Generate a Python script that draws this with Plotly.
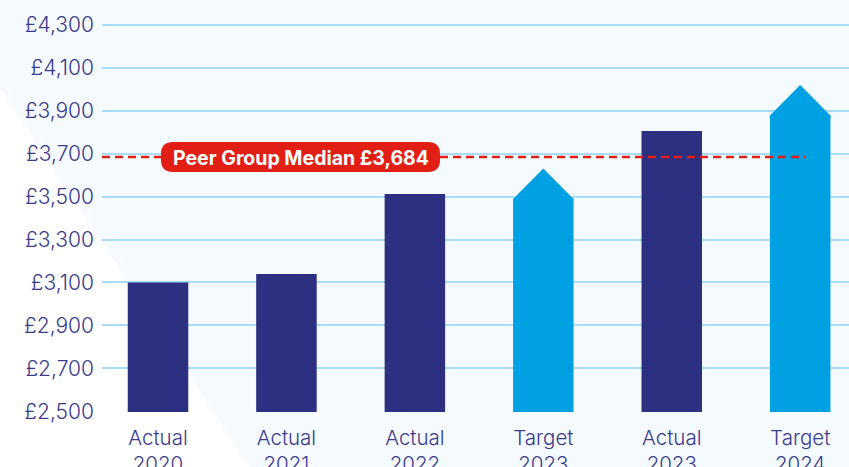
import plotly.graph_objects as go

# ---- data ----
categories = ["Actual<br>2020", "Actual<br>2021", "Actual<br>2022",
              "Target<br>2023", "Actual<br>2023", "Target<br>2024"]
kinds = ["actual", "actual", "actual", "target", "actual", "target"]
values = [3100, 3140, 3512, 3489, 3805, 3877]
peer_median = 3684
y_ticks = [2500, 2700, 2900, 3100, 3300, 3500, 3700, 3900, 4100, 4300]
y_tick_labels = ["£{:,}".format(v) for v in y_ticks]

# ---- style ----
NAVY = "#2d2f80"
CYAN = "#00a1e2"
RED = "#e21f14"
BG = "#f5faff"
GRID = "#a9dcf5"
TEXT = "#3b3b8c"
FONT = "Inter"
BAR_W = 0.471
ARROW_HEAD = 142  # height of the pointed tip, in £ units
OVERLAP = 12      # overlap of tip into bar body, in £ units

W, H = 849, 467
ML, MB = 102, 55
X_RANGE = [-0.436, 5.38]
Y_RANGE = [2497, 4415]

xs = list(range(len(categories)))
colors = [NAVY if k == "actual" else CYAN for k in kinds]

fig = go.Figure()
fig.add_trace(go.Bar(
    x=xs, y=[v - Y_RANGE[0] for v in values], base=Y_RANGE[0],
    width=BAR_W, marker=dict(color=colors, line=dict(width=0)),
    hoverinfo="skip", showlegend=False,
))

# pointed tips for target bars
for x, v, k in zip(xs, values, kinds):
    if k != "target":
        continue
    xl, xr = x - BAR_W / 2, x + BAR_W / 2
    fig.add_trace(go.Scatter(
        x=[xl, xl, x, xr, xr, xl],
        y=[v - OVERLAP, v, v + ARROW_HEAD, v, v - OVERLAP, v - OVERLAP],
        fill="toself", fillcolor=CYAN, mode="lines",
        line=dict(width=0, color=CYAN), hoverinfo="skip", showlegend=False,
    ))

shapes = [
    # white diagonal background region
    dict(type="path", xref="paper", yref="paper", layer="below",
         path="M {x0},{y0} L {x1},{y1} L {x0},{y1} Z".format(
             x0=(0 - ML) / (W - ML), y0=1 - 87 / (H - MB),
             x1=(250 - ML) / (W - ML), y1=1 - H / (H - MB)),
         fillcolor="white", line=dict(width=0)),
    # peer median dashed line
    dict(type="line", xref="x", yref="y", x0=X_RANGE[0], x1=5.04,
         y0=peer_median, y1=peer_median,
         line=dict(color=RED, width=2.6, dash="8px,5px")),
]

# rounded pill behind label
bx0, bx1, by0, by1, r = 59, 338, -15, 15, 12
pill = ("M {a},{b} L {c},{b} Q {d},{b} {d},{e} L {d},{f} Q {d},{g} {c},{g} "
        "L {a},{g} Q {h},{g} {h},{f} L {h},{e} Q {h},{b} {a},{b} Z").format(
    a=bx0 + r, b=by0, c=bx1 - r, d=bx1, e=by0 + r, f=by1 - r, g=by1, h=bx0)
shapes.append(dict(type="path", xref="x", yref="y", xsizemode="pixel",
                   ysizemode="pixel", xanchor=X_RANGE[0], yanchor=peer_median,
                   path=pill, fillcolor=RED, line=dict(width=0)))

fig.update_layout(
    width=W, height=H,
    margin=dict(l=ML, r=0, t=0, b=MB),
    paper_bgcolor=BG, plot_bgcolor="rgba(0,0,0,0)",
    shapes=shapes,
    annotations=[dict(
        xref="x", yref="y", x=X_RANGE[0], y=peer_median,
        xshift=(bx0 + bx1) / 2, yshift=-1,
        text="<b>Peer Group Median £{:,}</b>".format(peer_median),
        showarrow=False, xanchor="center", yanchor="middle",
        font=dict(family=FONT, size=19.5, color="white"),
    )],
    xaxis=dict(
        range=X_RANGE, tickmode="array", tickvals=xs, ticktext=categories,
        showgrid=False, zeroline=False, showline=False, ticks="",
        tickfont=dict(family=FONT, size=20.5, color=TEXT, weight=300),
        ticklabelstandoff=11, automargin=False,
    ),
    yaxis=dict(
        range=Y_RANGE, tickmode="array", tickvals=y_ticks, ticktext=y_tick_labels,
        showgrid=True, gridcolor=GRID, gridwidth=1.5, zeroline=False,
        showline=False, ticks="",
        tickfont=dict(family=FONT, size=21, color=TEXT, weight=300),
        ticklabelstandoff=7, automargin=False,
    ),
)

fig.write_html("out.html", config={"displayModeBar": False},
               post_script="document.body.style.margin='0';"
                           "document.body.style.overflow='hidden';")
